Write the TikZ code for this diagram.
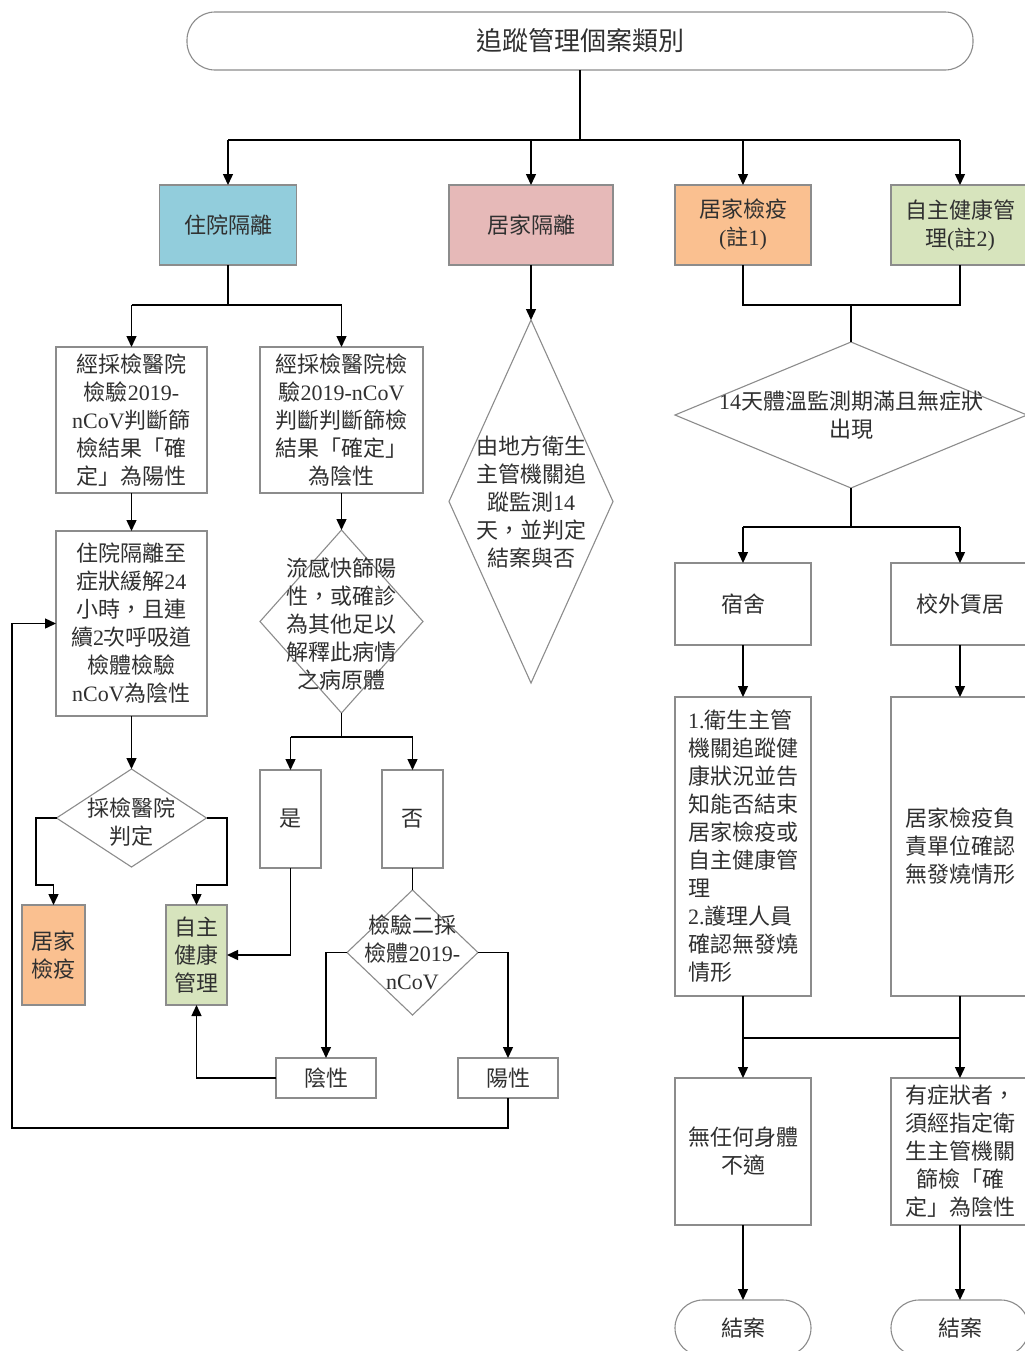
\documentclass[tikz,border=0pt]{standalone}
\usepackage{fontspec}
\setmainfont{Liberation Serif}
\newfontfamily\cjk{Noto Sans CJK TC}
\usetikzlibrary{arrows.meta,shapes.geometric}
\newcommand\latn[1]{{\rmfamily #1}}
\definecolor{cblue}{HTML}{92CDDC}
\definecolor{cpink}{HTML}{E6B9B8}
\definecolor{corange}{HTML}{FAC090}
\definecolor{cgreen}{HTML}{D7E4BD}
\definecolor{bordergray}{HTML}{8C8C8C}
\definecolor{txtc}{HTML}{303030}
\tikzset{
  bx/.style={draw=bordergray, line width=0.55pt, inner sep=0pt, outer sep=0pt, align=center,
             font=\cjk\fontsize{11}{14}\selectfont, text=txtc},
  term/.style={bx, rounded corners=14pt},
  dia/.style={diamond, draw=bordergray, line width=0.55pt, inner sep=0pt, outer sep=0pt},
  txt/.style={inner sep=0pt, align=center, font=\cjk\fontsize{11}{14}\selectfont, text=txtc},
  ln/.style={draw=black, line width=0.7pt},
  arr/.style={ln, -{Triangle[length=5.5pt,width=5pt]}},
}
\begin{document}
\begin{tikzpicture}[x=0.5pt,y=-0.5pt]
\fill[white] (0,0) rectangle (1024,1351);
\useasboundingbox (0,0) rectangle (1024,1351);

% top terminal
\node[term, minimum width=393pt, minimum height=29pt, font=\cjk\fontsize{13}{16}\selectfont] (top) at (580,41) {追蹤管理個案類別};

% first row
\node[bx, fill=cblue, minimum width=68.5pt, minimum height=40pt] (b1) at (228,225) {住院隔離};
\node[bx, fill=cpink, minimum width=82pt, minimum height=40pt] (b2) at (531,225) {居家隔離};
\node[bx, fill=corange, minimum width=68pt, minimum height=40pt] (b3) at (743,225) {居家檢疫\\\latn{(}註\latn{1)}};
\node[bx, fill=cgreen, minimum width=69pt, minimum height=40pt] (b4) at (960,225) {自主健康管\\理\latn{(}註\latn{2)}};

% left branch
\node[bx, minimum width=75.5pt, minimum height=73pt] (a1) at (131.5,420)
  {經採檢醫院\\檢驗\latn{2019-}\\\latn{nCoV}判斷篩\\檢結果「確\\定」為陽性};
\node[bx, minimum width=81.5pt, minimum height=73pt] (a2) at (341.5,420)
  {經採檢醫院檢\\驗\latn{2019-nCoV}\\判斷判斷篩檢\\結果「確定」\\為陰性};
\node[bx, minimum width=75.5pt, minimum height=92.5pt] (a3) at (131.5,623.5)
  {住院隔離至\\症狀緩解\latn{24}\\小時，且連\\續\latn{2}次呼吸道\\檢體檢驗\\\latn{nCoV}為陰性};

\node[dia, minimum width=75pt, minimum height=49pt] (d1) at (131.5,818) {};
\node[txt] (d1t) at (131.5,822) {採檢醫院\\判定};
\node[bx, fill=corange, minimum width=31.5pt, minimum height=50pt] (q) at (53.5,955) {居家\\檢疫};
\node[bx, fill=cgreen, minimum width=30.5pt, minimum height=50pt] (g) at (196.5,955) {自主\\健康\\管理};

\node[dia, minimum width=81.5pt, minimum height=91.5pt] (d2) at (341.5,621.5) {};
\node[txt] (d2t) at (341.5,624) {流感快篩陽\\性，或確診\\為其他足以\\解釋此病情\\之病原體};
\node[bx, minimum width=30.5pt, minimum height=49pt] (yes) at (290.5,819) {是};
\node[bx, minimum width=30.5pt, minimum height=49pt] (no) at (412.5,819) {否};
\node[dia, minimum width=65.5pt, minimum height=62.5pt] (d3) at (412.5,952.5) {};
\node[txt] (d3t) at (412.5,952.5) {檢驗二採\\檢體\latn{2019-}\\\latn{nCoV}};
\node[bx, minimum width=50pt, minimum height=20pt] (neg) at (326,1078) {陰性};
\node[bx, minimum width=50pt, minimum height=20pt] (pos) at (508,1078) {陽性};

% middle
\node[dia, minimum width=82pt, minimum height=181.5pt] (d4) at (531,501.5) {};
\node[txt] (d4t) at (531,502) {由地方衛生\\主管機關追\\蹤監測\latn{14}\\天，並判定\\結案與否};

% right branch
\node[dia, minimum width=176pt, minimum height=73pt] (d5) at (851,415) {};
\node[txt] (d5t) at (851,415) {\latn{14}天體溫監測期滿且無症狀\\出現};
\node[bx, minimum width=68pt, minimum height=41pt] (dorm) at (743,604) {宿舍};
\node[bx, minimum width=69pt, minimum height=41pt] (off) at (960,604) {校外賃居};
\node[bx, minimum width=68pt, minimum height=149.5pt, align=left] (r1) at (743,846.5)
  {\latn{1.}衛生主管\\機關追蹤健\\康狀況並告\\知能否結束\\居家檢疫或\\自主健康管\\理\\\latn{2.}護理人員\\確認無發燒\\情形};
\node[bx, minimum width=69pt, minimum height=149.5pt] (r2) at (960,846.5)
  {居家檢疫負\\責單位確認\\無發燒情形};
\node[bx, minimum width=68pt, minimum height=73.5pt] (r3) at (743,1151.5) {無任何身體\\不適};
\node[bx, minimum width=69pt, minimum height=73.5pt] (r4) at (960,1151.5)
  {有症狀者，\\須經指定衛\\生主管機關\\篩檢「確\\定」為陰性};
\node[term, minimum width=68pt, minimum height=28pt] (e1) at (743,1328) {結案};
\node[term, minimum width=69pt, minimum height=28pt] (e2) at (960,1328) {結案};

% connectors
\coordinate (bus1) at (580,140);
\draw[ln] (top.south) -- (bus1);
\draw[ln] (b1.north |- bus1) -- (b4.north |- bus1);
\foreach \n in {b1,b2,b3,b4} \draw[arr] (\n.north |- bus1) -- (\n.north);

\coordinate (bus2) at (228,305);
\draw[ln] (b1.south) -- (bus2);
\draw[ln] (a1.north |- bus2) -- (a2.north |- bus2);
\draw[arr] (a1.north |- bus2) -- (a1.north);
\draw[arr] (a2.north |- bus2) -- (a2.north);
\draw[arr] (a1.south) -- (a3.north);
\draw[arr] (a3.south) -- (d1.north);
\coordinate (k1) at (36,885);
\coordinate (k2) at (227,885);
\draw[arr] (d1.west) -| (k1) -| (q.north);
\draw[arr] (d1.east) -| (k2) -| (g.north);

\draw[arr] (a2.south) -- (d2.north);
\coordinate (bus3) at (341.5,737);
\draw[ln] (d2.south) -- (bus3);
\draw[ln] (yes.north |- bus3) -- (no.north |- bus3);
\draw[arr] (yes.north |- bus3) -- (yes.north);
\draw[arr] (no.north |- bus3) -- (no.north);
\draw[arr] (yes.south) |- (g.east);
\draw[ln] (no.south) -- (d3.north);
\draw[arr] (d3.west) -| (neg.north);
\draw[arr] (d3.east) -| (pos.north);
\draw[arr] (neg.west) -| (g.south);
\coordinate (k3) at (12,1128);
\draw[arr] (pos.south) |- (k3) |- (a3.west);

\draw[arr] (b2.south) -- (d4.north);

\coordinate (bus4) at (851,305);
\draw[ln] (b3.south) |- (bus4) -| (b4.south);
\draw[ln] (bus4) -- (d5.north);
\coordinate (bus5) at (851,527);
\draw[ln] (d5.south) -- (bus5);
\draw[ln] (dorm.north |- bus5) -- (off.north |- bus5);
\draw[arr] (dorm.north |- bus5) -- (dorm.north);
\draw[arr] (off.north |- bus5) -- (off.north);
\draw[arr] (dorm.south) -- (r1.north);
\draw[arr] (off.south) -- (r2.north);
\coordinate (bus6) at (851,1038);
\draw[arr] (r1.south) -- (r3.north);
\draw[arr] (r2.south) -- (r4.north);
\draw[ln] (r1.south |- bus6) -- (r2.south |- bus6);
\draw[arr] (r3.south) -- (e1.north);
\draw[arr] (r4.south) -- (e2.north);
\end{tikzpicture}
\end{document}
